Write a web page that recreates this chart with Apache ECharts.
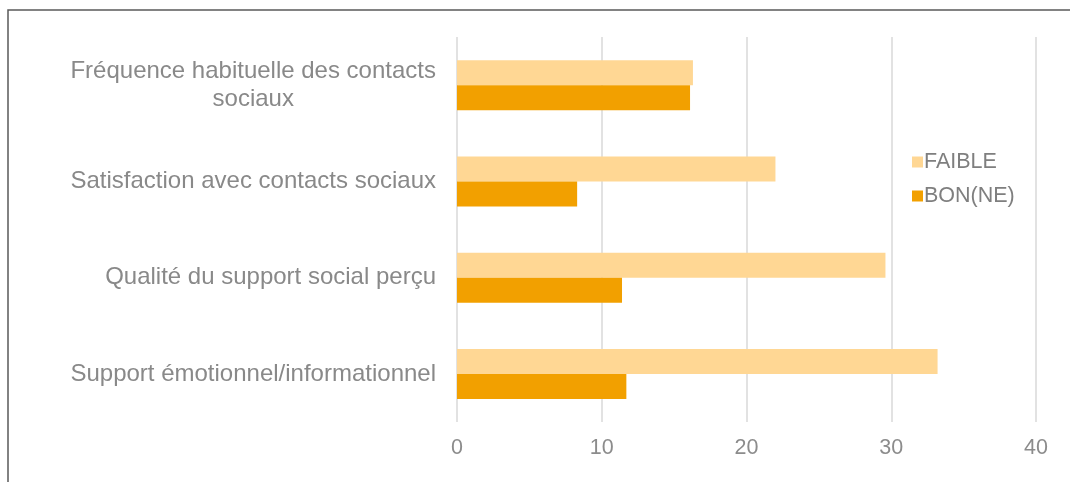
<!DOCTYPE html>
<html>
<head>
<meta charset="utf-8">
<script src="https://cdn.jsdelivr.net/npm/echarts@6/dist/echarts.min.js"></script>
<style>
  html, body { margin: 0; padding: 0; background: #fff; }
  #main { width: 1070px; height: 482px; }
</style>
</head>
<body>
<div id="main"></div>
<script>
// catégories, de haut en bas
var categories = [
    'Fréquence habituelle des contacts sociaux',
    'Satisfaction avec contacts sociaux',
    'Qualité du support social perçu',
    'Support émotionnel/informationnel'
];
var faible = [16.3, 22.0, 29.6, 33.2];
var bonne = [16.1, 8.3, 11.4, 11.7];
var xTicks = [0, 10, 20, 30, 40];

var labelColor = '#898989';

var chartDom = document.getElementById('main');
var myChart = echarts.init(chartDom);
var option = {
    animation: false,
    textStyle: { fontFamily: 'Liberation Sans, Arial, sans-serif' },
    graphic: [{
        type: 'rect',
        shape: { x: 8, y: 10, width: 1200, height: 600 },
        style: { fill: 'none', stroke: '#5a5a5a', lineWidth: 1.5 },
        silent: true
    }],
    grid: { left: 457, right: 34, top: 37, bottom: 60 },
    legend: {
        orient: 'vertical',
        left: 907,
        top: 146,
        itemWidth: 11,
        itemHeight: 11,
        itemGap: 12,
        icon: 'rect',
        data: ['FAIBLE', 'BON(NE)'],
        textStyle: { fontSize: 21.5, color: '#7f7f7f', padding: [0, 0, 0, -4] }
    },
    xAxis: {
        type: 'value',
        min: xTicks[0],
        max: xTicks[xTicks.length - 1],
        interval: 10,
        axisLine: { show: false },
        axisTick: { show: false },
        splitLine: { lineStyle: { color: '#d9d9d9', width: 1.5 } },
        axisLabel: { fontSize: 21.5, color: '#8c8c8c', margin: 15 }
    },
    yAxis: {
        type: 'category',
        inverse: true,
        data: categories,
        axisLine: { show: false },
        axisTick: { show: false },
        axisLabel: {
            margin: 21,
            fontSize: 24,
            color: labelColor,
            formatter: function (v) {
                if (v === categories[0]) {
                    return '{c|Fréquence habituelle des contacts}\n{c|sociaux}';
                }
                return v;
            },
            rich: {
                c: { align: 'center', fontSize: 24, color: labelColor, lineHeight: 28 }
            }
        }
    },
    series: [
        {
            name: 'FAIBLE',
            type: 'bar',
            data: faible,
            barWidth: 25,
            barGap: '0%',
            itemStyle: { color: '#FFD794' }
        },
        {
            name: 'BON(NE)',
            type: 'bar',
            data: bonne,
            barWidth: 25,
            barGap: '0%',
            itemStyle: { color: '#F2A000' }
        }
    ]
};
option && myChart.setOption(option);
</script>
</body>
</html>
